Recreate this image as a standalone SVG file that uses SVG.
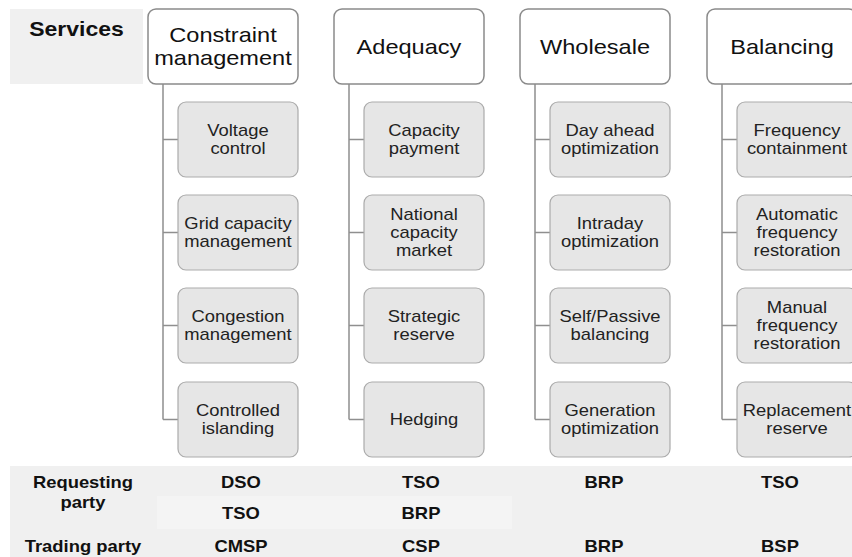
<svg xmlns="http://www.w3.org/2000/svg" width="852" height="557" viewBox="0 0 852 557">
<style>
.hdr{fill:#ffffff;stroke:#8a8a8a;stroke-width:1.5}
.chd{fill:#e6e6e6;stroke:#ababab;stroke-width:1.2}
.conn{fill:none;stroke:#8f8f8f;stroke-width:1.5}
text{transform:scale(1.15,1);text-anchor:middle;font-family:"Liberation Sans",Arial,sans-serif}
.ht{font-size:20.5px;fill:#111}
.ct{font-size:16px;fill:#222}
.bt{font-size:16px;font-weight:bold;fill:#111}
</style>
<rect width="852" height="557" fill="#ffffff"/>
<g id="services-label">
<rect x="10" y="9" width="133" height="75" fill="#f0f0f0"/>
<text x="66.52" y="36" class="bt" style="font-size:20px">Services</text>
</g>
<g id="connectors">
<path class="conn" d="M163 84V419.5M163 139.5H178M163 232.5H178M163 325.5H178M163 419.5H178"/>
<path class="conn" d="M349 84V419.5M349 139.5H364M349 232.5H364M349 325.5H364M349 419.5H364"/>
<path class="conn" d="M535 84V419.5M535 139.5H550M535 232.5H550M535 325.5H550M535 419.5H550"/>
<path class="conn" d="M722 84V419.5M722 139.5H737M722 232.5H737M722 325.5H737M722 419.5H737"/>
</g>
<g id="constraint-management">
<rect class="hdr" x="148" y="9" width="150" height="75" rx="8"/>
<text class="ht" x="193.91" y="42">Constraint</text>
<text class="ht" x="193.91" y="65">management</text>
</g>
<g id="voltage-control"><rect class="chd" x="178" y="102" width="120" height="75" rx="8"/>
<text class="ct" x="206.96" y="136">Voltage</text><text class="ct" x="206.96" y="154">control</text></g>
<g id="grid-capacity"><rect class="chd" x="178" y="195" width="120" height="75" rx="8"/>
<text class="ct" x="206.96" y="229">Grid capacity</text><text class="ct" x="206.96" y="247">management</text></g>
<g id="congestion"><rect class="chd" x="178" y="288" width="120" height="75" rx="8"/>
<text class="ct" x="206.96" y="322">Congestion</text><text class="ct" x="206.96" y="340">management</text></g>
<g id="islanding"><rect class="chd" x="178" y="382" width="120" height="75" rx="8"/>
<text class="ct" x="206.96" y="416">Controlled</text><text class="ct" x="206.96" y="434">islanding</text></g>

<g id="adequacy">
<rect class="hdr" x="334" y="9" width="150" height="75" rx="8"/>
<text class="ht" x="355.65" y="54">Adequacy</text>
</g>
<g id="capacity-payment"><rect class="chd" x="364" y="102" width="120" height="75" rx="8"/>
<text class="ct" x="368.7" y="136">Capacity</text><text class="ct" x="368.7" y="154">payment</text></g>
<g id="national-capacity"><rect class="chd" x="364" y="195" width="120" height="75" rx="8"/>
<text class="ct" x="368.7" y="220">National</text><text class="ct" x="368.7" y="238">capacity</text><text class="ct" x="368.7" y="256">market</text></g>
<g id="strategic-reserve"><rect class="chd" x="364" y="288" width="120" height="75" rx="8"/>
<text class="ct" x="368.7" y="322">Strategic</text><text class="ct" x="368.7" y="340">reserve</text></g>
<g id="hedging"><rect class="chd" x="364" y="382" width="120" height="75" rx="8"/>
<text class="ct" x="368.7" y="425">Hedging</text></g>

<g id="wholesale">
<rect class="hdr" x="520" y="9" width="150" height="75" rx="8"/>
<text class="ht" x="517.39" y="54">Wholesale</text>
</g>
<g id="day-ahead"><rect class="chd" x="550" y="102" width="120" height="75" rx="8"/>
<text class="ct" x="530.43" y="136">Day ahead</text><text class="ct" x="530.43" y="154">optimization</text></g>
<g id="intraday"><rect class="chd" x="550" y="195" width="120" height="75" rx="8"/>
<text class="ct" x="530.43" y="229">Intraday</text><text class="ct" x="530.43" y="247">optimization</text></g>
<g id="self-passive"><rect class="chd" x="550" y="288" width="120" height="75" rx="8"/>
<text class="ct" x="530.43" y="322">Self/Passive</text><text class="ct" x="530.43" y="340">balancing</text></g>
<g id="generation"><rect class="chd" x="550" y="382" width="120" height="75" rx="8"/>
<text class="ct" x="530.43" y="416">Generation</text><text class="ct" x="530.43" y="434">optimization</text></g>

<g id="balancing">
<rect class="hdr" x="707" y="9" width="150" height="75" rx="8"/>
<text class="ht" x="680" y="54">Balancing</text>
</g>
<g id="frequency-containment"><rect class="chd" x="737" y="102" width="120" height="75" rx="8"/>
<text class="ct" x="693.04" y="136">Frequency</text><text class="ct" x="693.04" y="154">containment</text></g>
<g id="automatic-frr"><rect class="chd" x="737" y="195" width="120" height="75" rx="8"/>
<text class="ct" x="693.04" y="220">Automatic</text><text class="ct" x="693.04" y="238">frequency</text><text class="ct" x="693.04" y="256">restoration</text></g>
<g id="manual-frr"><rect class="chd" x="737" y="288" width="120" height="75" rx="8"/>
<text class="ct" x="693.04" y="313">Manual</text><text class="ct" x="693.04" y="331">frequency</text><text class="ct" x="693.04" y="349">restoration</text></g>
<g id="replacement"><rect class="chd" x="737" y="382" width="120" height="75" rx="8"/>
<text class="ct" x="693.04" y="416">Replacement</text><text class="ct" x="693.04" y="434">reserve</text></g>

<g id="table">
<rect x="10" y="466" width="842" height="91" fill="#f0f0f0"/>
<rect x="157" y="496" width="355" height="33" fill="#f4f4f4"/>
<text class="bt" x="72.17" y="488">Requesting</text>
<text class="bt" x="72.17" y="508">party</text>
<text class="bt" x="72.17" y="552">Trading party</text>
<text class="bt" x="209.57" y="488">DSO</text>
<text class="bt" x="209.57" y="519">TSO</text>
<text class="bt" x="209.57" y="552">CMSP</text>
<text class="bt" x="366.09" y="488">TSO</text>
<text class="bt" x="366.09" y="519">BRP</text>
<text class="bt" x="366.09" y="552">CSP</text>
<text class="bt" x="525.22" y="488">BRP</text>
<text class="bt" x="525.22" y="552">BRP</text>
<text class="bt" x="678.26" y="488">TSO</text>
<text class="bt" x="678.26" y="552">BSP</text>
</g>
</svg>
